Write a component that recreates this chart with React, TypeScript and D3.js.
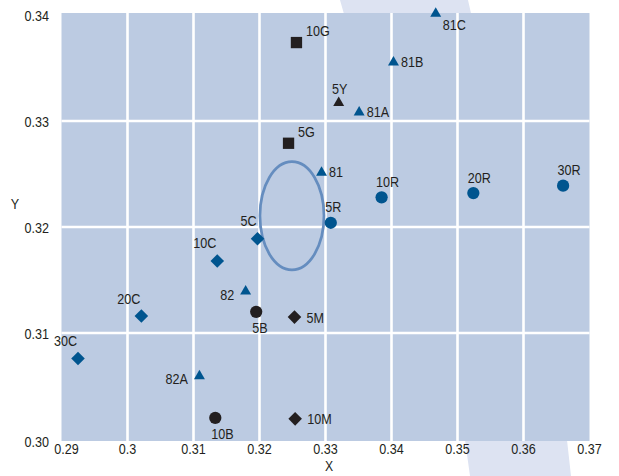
import React from "react";
import * as d3 from "d3";

const W = 619;
const H = 476;

// ---- data ----
const pointNames = ["81C", "81B", "10G", "5Y", "81A", "5G", "81", "10R", "5R", "20R", "30R", "5C", "10C", "82", "5B", "5M", "20C", "30C", "82A", "10B", "10M"];
const pointX = [0.3467, 0.3403, 0.3256, 0.332, 0.3351, 0.3244, 0.3294, 0.3385, 0.3308, 0.3524, 0.366, 0.3197, 0.3136, 0.3179, 0.3195, 0.3253, 0.3021, 0.2925, 0.3109, 0.3133, 0.3254];
const pointY = [0.3402, 0.3356, 0.3374, 0.3318, 0.3309, 0.3279, 0.3252, 0.3228, 0.3204, 0.3232, 0.3239, 0.3189, 0.3168, 0.314, 0.312, 0.3115, 0.3116, 0.3076, 0.306, 0.302, 0.3019];
const pointShape = ["triangle", "triangle", "square", "triangle", "triangle", "square", "triangle", "circle", "circle", "circle", "circle", "diamond", "diamond", "triangle", "circle", "diamond", "diamond", "diamond", "triangle", "circle", "diamond"];
const pointGroup = ["blue", "blue", "black", "black", "blue", "black", "blue", "blue", "blue", "blue", "blue", "blue", "blue", "blue", "black", "black", "blue", "blue", "blue", "black", "black"];
const labelSide = ["belowRight", "right", "aboveRight", "above", "right", "aboveRight", "right", "aboveStart", "aboveStart", "aboveStart", "aboveStart", "aboveLeft", "aboveLeft", "left", "below", "right", "aboveLeft", "aboveLeft", "left", "below", "right"];

const xTicks = [0.29, 0.3, 0.31, 0.32, 0.33, 0.34, 0.35, 0.36, 0.37];
const xTickLabels = ["0.29", "0.3", "0.31", "0.32", "0.33", "0.34", "0.35", "0.36", "0.37"];
const yTicks = [0.3, 0.31, 0.32, 0.33, 0.34];
const yTickLabels = ["0.30", "0.31", "0.32", "0.33", "0.34"];

const ellipseCenter = [0.32492, 0.32106];
const ellipseRadii = [0.00485, 0.0051];

// ---- style ----
const FONT = "'Liberation Sans', Arial, sans-serif";
const TEXT = "#231f20";
const BLUE = "#00558f";
const BLACK = "#231f20";
const PLOT_BG = "#bccbe2";
const BAND = "#dde3f2";
const FS = 15;
const SX = 0.84;

function T(props: { x: number; y: number; anchor?: string; size?: number; children: React.ReactNode }) {
  return (
    <text
      transform={`translate(${props.x},${props.y}) scale(${SX},1)`}
      textAnchor={(props.anchor || "start") as any}
      fontSize={props.size || FS}
      fill={TEXT}
    >
      {props.children}
    </text>
  );
}

export default function App() {
  const x = d3.scaleLinear().domain([0.29, 0.37]).range([61.5, 589.5]);
  const y = d3.scaleLinear().domain([0.3, 0.34]).range([439, 15]);
  const pad = 2;
  const [x0, x1] = x.range();
  const yTop = y(0.34) - pad;
  const yBot = y(0.3) + pad;

  const markerPath = (shape: string) => {
    const sym = {
      triangle: d3.symbolTriangle,
      square: d3.symbolSquare,
      circle: d3.symbolCircle,
      diamond: d3.symbolSquare,
    } as any;
    const size = { triangle: 52, square: 128, circle: 118, diamond: 92 } as any;
    return d3.symbol().type(sym[shape]).size(size[shape])() as string;
  };

  const labelPlacement = (side: string, shape: string) => {
    switch (side) {
      case "right":
        return { dx: shape === "triangle" ? 7.5 : 12, dy: 5.5, anchor: "start" };
      case "left":
        return { dx: -11.5, dy: 9, anchor: "end" };
      case "aboveLeft":
        return { dx: -1, dy: -12.5, anchor: "end" };
      case "aboveStart":
        return { dx: -5.5, dy: -10.5, anchor: "start" };
      case "above":
        return { dx: 1, dy: -8, anchor: "middle" };
      case "aboveRight":
        return { dx: 9.5, dy: -6.5, anchor: "start" };
      case "belowRight":
        return { dx: 7, dy: 17.5, anchor: "start" };
      case "below":
        return { dx: -4, dy: 21, anchor: "start" };
      default:
        return { dx: 0, dy: 0, anchor: "start" };
    }
  };

  const bandPts: [number, number][] = [
    [340, 0],
    [468, 0],
    [567, 440],
    [571, H],
    [470, H],
    [465, 440],
  ];

  return (
    <svg width={W} height={H} style={{ position: "absolute", left: 0, top: 0 }} fontFamily={FONT}>
      <rect x={0} y={0} width={W} height={H} fill="#ffffff" />
      <path d={(d3.line()(bandPts) as string) + "Z"} fill={BAND} />
      <rect x={x0} y={yTop} width={x1 - x0} height={yBot - yTop} fill={PLOT_BG} />
      {xTicks.slice(1, -1).map((t) => (
        <line key={"gx" + t} x1={x(t)} x2={x(t)} y1={yTop} y2={yBot} stroke="#ffffff" strokeWidth={2.6} />
      ))}
      {yTicks.slice(1, -1).map((t) => (
        <line key={"gy" + t} x1={x0} x2={x1} y1={y(t)} y2={y(t)} stroke="#ffffff" strokeWidth={2.6} />
      ))}
      {/* ellipse */}
      <ellipse
        cx={x(ellipseCenter[0])}
        cy={y(ellipseCenter[1])}
        rx={x(ellipseCenter[0] + ellipseRadii[0]) - x(ellipseCenter[0])}
        ry={y(ellipseCenter[1]) - y(ellipseCenter[1] + ellipseRadii[1])}
        fill="none"
        stroke="#658dbf"
        strokeWidth={2.7}
      />
      {/* points */}
      {pointNames.map((n, i) => {
        const px = x(pointX[i]);
        const py = y(pointY[i]);
        const shape = pointShape[i];
        const rot = shape === "diamond" ? 45 : 0;
        const tri = shape === "triangle" ? 0.8 : 0;
        const lp = labelPlacement(labelSide[i], shape);
        return (
          <g key={n}>
            <path
              d={markerPath(shape)}
              transform={`translate(${px},${py + tri}) rotate(${rot})`}
              fill={pointGroup[i] === "blue" ? BLUE : BLACK}
            />
            <T x={px + lp.dx} y={py + lp.dy} anchor={lp.anchor}>
              {n}
            </T>
          </g>
        );
      })}
      {/* axes labels */}
      {xTicks.map((t, i) => (
        <T key={"xt" + t} x={x(t) + (i === 0 ? 5 : 0)} y={454} anchor="middle">
          {xTickLabels[i]}
        </T>
      ))}
      {yTicks.map((t, i) => (
        <T key={"yt" + t} x={49} y={y(t) + 5.5 + (i === 0 ? 2.5 : 0)} anchor="end">
          {yTickLabels[i]}
        </T>
      ))}
      <T x={329} y={471} anchor="middle" size={14.5}>X</T>
      <T x={15} y={208.5} anchor="middle">Y</T>
    </svg>
  );
}
